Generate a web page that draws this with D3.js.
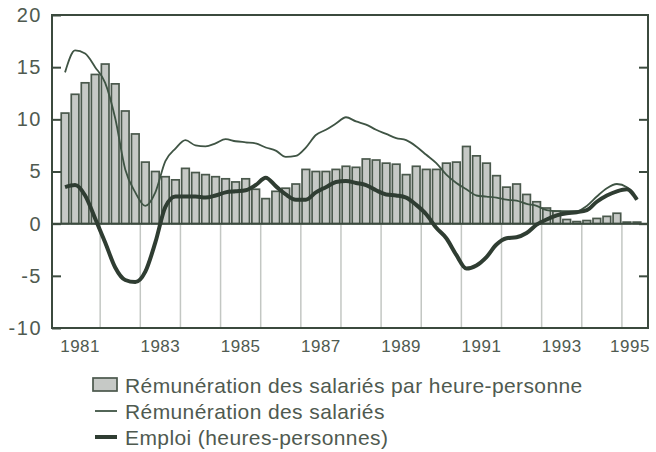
<!DOCTYPE html>
<html>
<head>
<meta charset="utf-8">
<script src="https://cdn.jsdelivr.net/npm/d3@7"></script>
<style>
  body { margin: 0; background: #fff; }
  text { font-family: "Liberation Sans", Arial, sans-serif; fill: #4f5a50; }
</style>
</head>
<body>
<svg width="656" height="452"></svg>
<script>
// quarterly data, 1981 T1 -> 1995 T2
const firstYear = 1981;

// Rémunération des salariés par heure-personne (bars)
const parHeure = [
  10.6, 12.4, 13.5, 14.3, 15.3, 13.4, 10.8, 8.6,
  5.9, 5.0, 4.5, 4.2, 5.3, 4.9, 4.7, 4.5,
  4.3, 4.0, 4.3, 3.3, 2.4, 3.1, 3.4, 3.8,
  5.2, 5.0, 5.0, 5.2, 5.5, 5.4, 6.2, 6.1,
  5.8, 5.7, 4.7, 5.5, 5.2, 5.2, 5.8, 5.9,
  7.4, 6.5, 5.8, 4.6, 3.5, 3.8, 2.8, 2.1,
  1.5, 1.2, 0.4, 0.2, 0.3, 0.5, 0.7, 1.0,
  0.15, 0.15
];

// Rémunération des salariés (thin line)
const remuneration = [
  14.5, 16.6, 16.3, 15.0, 13.5, 10.1, 5.2, 3.0,
  1.7, 3.0, 6.0, 7.2, 8.0, 7.5, 7.4, 7.7,
  8.1, 7.9, 7.8, 7.7, 7.3, 7.0, 6.4, 6.5,
  7.3, 8.5, 9.0, 9.6, 10.2, 9.8, 9.5, 9.0,
  8.6, 8.2, 8.0, 7.4, 6.6, 5.8, 4.7, 3.9,
  3.3, 2.7, 2.6, 2.5, 2.3, 2.2, 1.9, 1.7,
  1.3, 1.2, 1.2, 1.2, 1.7, 2.6, 3.4, 3.8,
  3.5, 2.3
];

// Emploi (heures-personnes) (thick line)
const emploi = [
  3.5, 3.7, 2.7, 0.5, -1.8, -4.2, -5.4, -5.6,
  -4.6, -1.8, 1.6, 2.6, 2.6, 2.6, 2.5, 2.7,
  3.0, 3.1, 3.2, 3.7, 4.4, 3.6, 2.8, 2.3,
  2.3, 3.0, 3.5, 4.0, 4.1, 3.9, 3.7, 3.2,
  2.8, 2.7, 2.5, 1.8, 0.9, -0.4, -1.4, -3.0,
  -4.3, -4.0, -3.2, -2.0, -1.4, -1.3, -0.9, -0.1,
  0.4, 0.8, 1.0, 1.1, 1.3, 2.1, 2.7, 3.1,
  3.3, 2.3
];

const yTicks = [-10, -5, 0, 5, 10, 15, 20];
const yearLabels = [1981, 1983, 1985, 1987, 1989, 1991, 1993, 1995];
const yearLines = d3.range(1982, 1996);

const legendItems = [
  {label: 'Rémunération des salariés par heure-personne', type: 'bar'},
  {label: 'Rémunération des salariés', type: 'thin'},
  {label: 'Emploi (heures-personnes)', type: 'thick'}
];

const ink = '#3b4a3e';
const svg = d3.select('svg');
const margin = {top: 15, right: 8, bottom: 124, left: 52};
const width = +svg.attr('width') - margin.left - margin.right;
const height = +svg.attr('height') - margin.top - margin.bottom;

const t = i => firstYear + i / 4 + 0.125; // quarter centre, in years

const x = d3.scaleLinear()
  .domain([1980.8, 1995.65])
  .range([0, width]);

const y = d3.scaleLinear()
  .domain([-10, 20])
  .range([height, 0]);

const g = svg.append('g')
  .attr('transform', `translate(${margin.left},${margin.top})`);

// year separators below zero
g.append('g')
  .selectAll('line')
  .data(yearLines)
  .enter().append('line')
    .attr('x1', d => x(d))
    .attr('x2', d => x(d))
    .attr('y1', y(0))
    .attr('y2', y(-10))
    .attr('stroke', '#c3c7c3')
    .attr('stroke-width', 1.5);

// bars
const qw = x(0.25) - x(0);
g.append('g')
  .selectAll('rect')
  .data(parHeure)
  .enter().append('rect')
    .attr('x', (d, i) => x(t(i)) - qw * 0.38)
    .attr('width', qw * 0.76)
    .attr('y', d => y(d))
    .attr('height', d => y(0) - y(d))
    .attr('fill', '#c6c9c6')
    .attr('stroke', '#4a584c')
    .attr('stroke-width', 1.7);

// zero line
g.append('line')
  .attr('x1', 0)
  .attr('x2', width)
  .attr('y1', y(0))
  .attr('y2', y(0))
  .attr('stroke', ink)
  .attr('stroke-width', 2);

const line = d3.line()
  .x((d, i) => x(t(i)))
  .y(d => y(d))
  .curve(d3.curveMonotoneX);

g.append('path')
  .datum(remuneration)
  .attr('d', line)
  .attr('fill', 'none')
  .attr('stroke', '#3f5444')
  .attr('stroke-width', 1.8);

g.append('path')
  .datum(emploi)
  .attr('d', line)
  .attr('fill', 'none')
  .attr('stroke', '#2f3d32')
  .attr('stroke-width', 4);

// frame
g.append('rect')
  .attr('width', width)
  .attr('height', height)
  .attr('fill', 'none')
  .attr('stroke', ink)
  .attr('stroke-width', 2);

// axes
const yAxis = g.append('g')
  .call(d3.axisLeft(y)
    .tickValues(yTicks)
    .tickFormat(d => String(d))
    .tickSizeInner(-9)
    .tickSizeOuter(0)
    .tickPadding(10));

g.append('g')
  .attr('transform', `translate(${width},0)`)
  .call(d3.axisRight(y)
    .tickValues(yTicks.slice(1, -1))
    .tickSizeInner(-9)
    .tickSizeOuter(0)
    .tickFormat(''));

g.selectAll('.domain').remove();
g.selectAll('.tick line').attr('stroke', ink).attr('stroke-width', 2);
yAxis.selectAll('text')
  .style('font-size', '20px')
  .style('letter-spacing', '1.5px')
  .style('font-family', '"Liberation Sans", Arial, sans-serif')
  .attr('fill', '#4f5a50');

// year labels
g.append('g')
  .selectAll('text')
  .data(yearLabels)
  .enter().append('text')
    .attr('x', d => Math.min(x(d + 0.5), width - 18))
    .attr('y', height + 24)
    .attr('text-anchor', 'middle')
    .style('font-size', '17px')
    .style('letter-spacing', '0.5px')
    .text(d => d);

// legend
const legend = svg.append('g')
  .attr('transform', 'translate(93,385)');

const item = legend.selectAll('g')
  .data(legendItems)
  .enter().append('g')
    .attr('transform', (d, i) => `translate(0,${i * 26})`);

item.filter(d => d.type === 'bar').append('rect')
  .attr('x', 0)
  .attr('y', -7)
  .attr('width', 24)
  .attr('height', 13)
  .attr('fill', '#c6c9c6')
  .attr('stroke', '#4a584c')
  .attr('stroke-width', 1.7);

item.filter(d => d.type !== 'bar').append('line')
  .attr('x1', 2)
  .attr('x2', 24)
  .attr('stroke', d => d.type === 'thin' ? '#3f5444' : '#2f3d32')
  .attr('stroke-width', d => d.type === 'thin' ? 1.8 : 4);

item.append('text')
  .attr('x', 32)
  .attr('dy', '0.36em')
  .style('font-size', '21px')
  .style('letter-spacing', '0.4px')
  .text(d => d.label);
</script>
</body>
</html>
